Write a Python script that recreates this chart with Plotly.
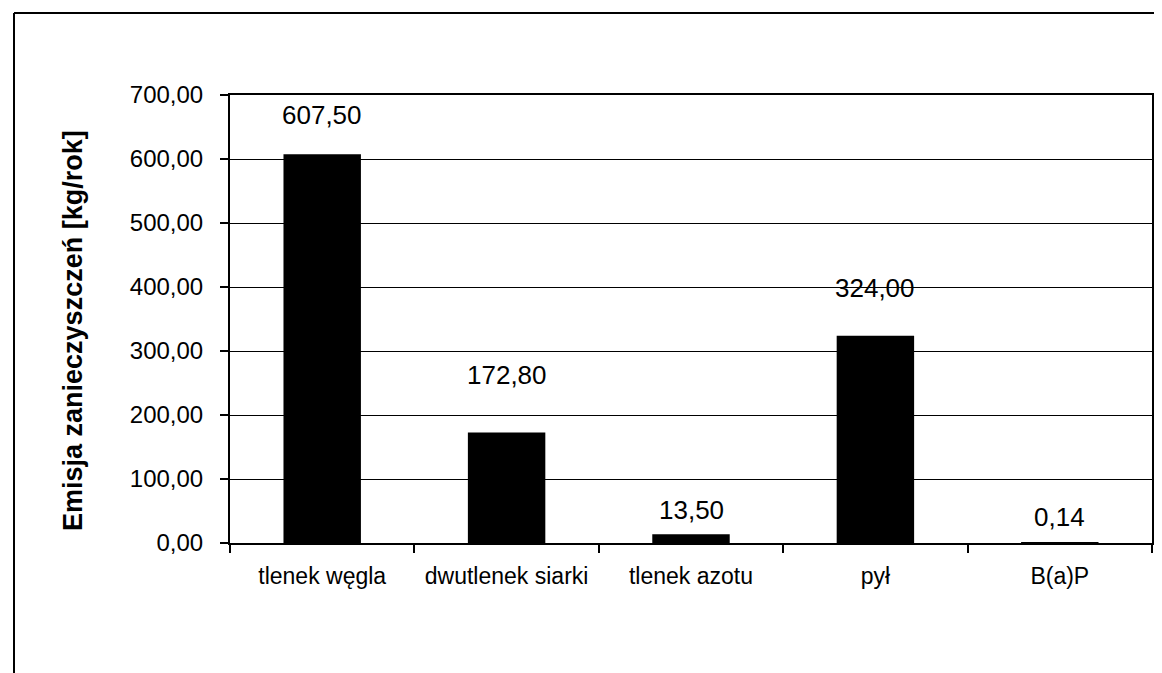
import plotly.graph_objects as go

categories = ["tlenek węgla", "dwutlenek siarki", "tlenek azotu", "pył", "B(a)P"]
values = [607.50, 172.80, 13.50, 324.00, 0.14]
label_texts = ["607,50", "172,80", "13,50", "324,00", "0,14"]
label_shift = [39, 57, 24, 48, 26]
y_ticks = [0, 100, 200, 300, 400, 500, 600, 700]
y_tick_text = ["0,00", "100,00", "200,00", "300,00", "400,00", "500,00", "600,00", "700,00"]

FONT = "Liberation Sans, Arial"
OFF = 8  # page body margin
fig = go.Figure()
fig.add_trace(go.Bar(x=categories, y=values, marker=dict(color="black", line=dict(width=0)),
                     width=0.42, showlegend=False, hoverinfo="skip"))

for c, v, t, s in zip(categories, values, label_texts, label_shift):
    fig.add_annotation(x=c, y=v, text=t, showarrow=False, yshift=s,
                       font=dict(family=FONT, size=26, color="black"))

L, T, R, B = 230 - OFF, 95 - OFF, 1152 - OFF, 543 - OFF
W, H = R - L, B - T
def px(x): return (x - OFF - L) / W
def py(y): return (B - (y - OFF)) / H

fig.add_shape(type="line", xref="paper", yref="paper", x0=px(14), x1=px(1175), y0=py(13), y1=py(13),
              line=dict(color="black", width=2))
fig.add_shape(type="line", xref="paper", yref="paper", x0=px(14), x1=px(14), y0=py(13), y1=py(680),
              line=dict(color="black", width=2))

fig.add_annotation(xref="paper", yref="paper", x=px(73), y=py(331), xanchor="center", yanchor="middle",
                   text="<b>Emisja zanieczyszczeń [kg/rok]</b>",
                   textangle=-90, showarrow=False, font=dict(family=FONT, size=27, color="black"))

fig.update_layout(
    width=1162, height=673,
    margin=dict(l=L, r=1162 - R, t=T, b=673 - B),
    paper_bgcolor="white", plot_bgcolor="white",
    bargap=0.58,
    font=dict(family=FONT, color="black"),
    xaxis=dict(showline=True, linecolor="black", linewidth=2, mirror=True,
               ticks="outside", tickson="boundaries", ticklen=8, tickcolor="black", tickwidth=2,
               tickfont=dict(size=23, color="black"), showgrid=False, ticklabelstandoff=11),
    yaxis=dict(range=[0, 700], tickvals=y_ticks, ticktext=y_tick_text,
               showline=True, linecolor="black", linewidth=2, mirror=True,
               ticks="outside", ticklen=8, tickcolor="black", tickwidth=2,
               tickfont=dict(size=24, color="black"), ticklabelstandoff=12,
               showgrid=True, gridcolor="black", gridwidth=1, zeroline=False),
)

fig.write_html("out.html")
